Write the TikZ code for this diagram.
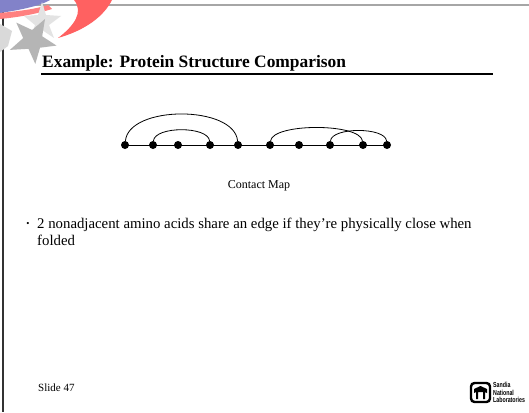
\documentclass[tikz,border=0pt]{standalone}
\usepackage{fontspec}
\setmainfont{Liberation Serif}
\newfontfamily\logofont{Liberation Sans}[FakeStretch=0.72]
\usetikzlibrary{calc}
\tikzset{
  dot/.style={circle,fill=black,inner sep=0pt,minimum size=8pt},
  chain/.style={line width=0.9pt},
  contact/.style={line width=0.8pt},
  frameline/.style={draw=gray!70,line width=1.5pt}
}
\begin{document}
\begin{tikzpicture}[x=1pt,y=-1pt]
\useasboundingbox (0,0) rectangle (529,412);
\fill[white] (0,0) rectangle (529,412);

% slide frame
\draw[frameline] (0,5) -- (529,5);
\draw[line width=1.2pt,black!80] (3,12) -- (3,412);

% corner emblem: blue band, red swoosh, grey star
\fill[blue!40!gray!70] (0,0) -- (50,0) .. controls (40,6) and (20,10) .. (0,13) -- cycle;
\fill[red!50!white] (0,13) .. controls (20,11) and (36,9) .. (48,5) -- (52,9)
   .. controls (36,14) and (20,17) .. (0,19) -- cycle;
\fill[red!62!white] (74,0) -- (112,0) .. controls (104,16) and (86,30) .. (58,38)
   .. controls (74,26) and (84,12) .. (74,0) -- cycle;
\fill[gray!22] (42,2) -- (46,15) -- (61,16) -- (49,25) -- (54,38) -- (42,30)
   -- (31,38) -- (35,25) -- (24,16) -- (38,15) -- cycle;
\fill[gray!58] (45,19) -- (32.1,30.0) -- (16.3,22.6) -- (23.2,38.1) -- (9.9,49.9)
   -- (28.5,48.8) -- (35.3,63.9) -- (40.0,47.7) -- (56.5,45.6) -- (42.2,36.3) -- cycle;
\fill[gray!30] (0,24) -- (12,31) -- (8,46) -- (0,52) -- cycle;

% title
\node[anchor=base west,font=\bfseries\fontsize{17.4}{20}\selectfont,inner sep=0pt]
  (title) at (42,67) {Example: Protein Structure Comparison};
\draw[line width=2pt] (41,74) -- (493,74);

% contact map chain
\foreach \i/\x in {1/125,2/153,3/178,4/210,5/238,6/270,7/299,8/330,9/363,10/387}
  \node[dot] (n\i) at (\x,145) {};
\draw[chain] (n1.center) -- (n10.center);

% contacts
\draw[contact] (n1) .. controls ($(n1)+(4,-40)$) and ($(n5)+(-4,-40)$) .. (n5);
\draw[contact] (n2) .. controls ($(n2)+(2,-19)$) and ($(n4)+(-2,-19)$) .. (n4);
\draw[contact] (n6) .. controls ($(n6)+(3,-22)$) and ($(n9)+(-3,-22)$) .. (n9);
\draw[contact] (n8) .. controls ($(n8)+(2,-18)$) and ($(n10)+(-2,-18)$) .. (n10);

\node[font=\fontsize{12}{14}\selectfont,anchor=base,inner sep=0pt] (cap) at (259,188) {Contact Map};

% bullet text
\node[anchor=center,inner sep=0pt,font=\fontsize{9}{12}\selectfont] (bul) at (28,224.5) {\textbullet};
\node[anchor=base west,inner sep=0pt,font=\fontsize{14.8}{17}\selectfont,align=left]
  (txt) at (37,245) {2 nonadjacent amino acids share an edge if they’re physically close when\\folded};

% footer
\node[anchor=base west,inner sep=0pt,font=\fontsize{11}{13}\selectfont] (slide) at (38,391) {Slide 47};

% Sandia logo
\draw[line width=2.4pt,rounded corners=3.5pt] (471,383) rectangle (490,402);
\fill (474,389) -- (480.5,386) -- (487,389) -- (487,393) -- (485,392) -- (485,399) -- (483,399)
   -- (483,392) -- (478,392) -- (478,399) -- (476,399) -- (476,392) -- (474,393) -- cycle;
\node[anchor=north west,inner sep=0pt,align=left,font=\logofont\bfseries\fontsize{7.3}{7.2}\selectfont]
  (logo) at (493,382.5) {Sandia\\National\\Laboratories};
\end{tikzpicture}
\end{document}
